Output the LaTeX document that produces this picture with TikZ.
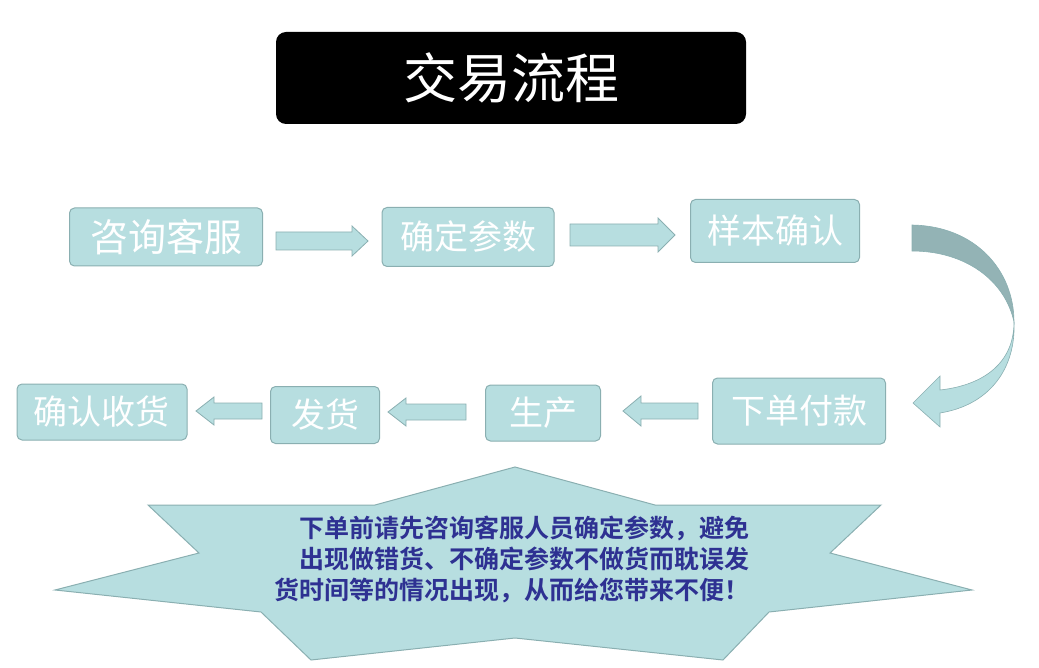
\documentclass[tikz,border=0pt]{standalone}
\usepackage{fontspec}
\newfontfamily\cjk{Noto Sans CJK SC}
\newfontfamily\cjkb{Noto Sans CJK SC Bold}
\definecolor{bfill}{HTML}{B7DEE0}
\definecolor{bdraw}{HTML}{8AAFB1}
\definecolor{dk}{HTML}{93B3B5}
\definecolor{txt}{HTML}{2E3192}
\begin{document}
\begin{tikzpicture}[x=1pt,y=-1pt,
  box/.style={draw=bdraw,fill=bfill,rounded corners=5pt,line width=1pt,text=white,font=\cjk\fontsize{34}{36}\selectfont},
  barr/.style={draw=bdraw,fill=bfill,line width=0.8pt}]
\useasboundingbox (0,0) rectangle (1039,668);
\node[fill=black,rounded corners=10pt,minimum width=470pt,minimum height=92pt,text=white,font=\cjk\fontsize{54}{56}\selectfont] (t) at (511,78) {交易流程};
\node[box,minimum width=193pt,minimum height=58pt,font=\cjk\fontsize{38}{40}\selectfont] (a) at (166,237) {咨询客服};
\node[box,minimum width=172pt,minimum height=59pt] (b) at (468,237) {确定参数};
\node[box,minimum width=169pt,minimum height=63pt] (c) at (775,231) {样本确认};
\node[box,minimum width=173pt,minimum height=66pt] (d) at (799,411) {下单付款};
\node[box,minimum width=115pt,minimum height=56pt] (e) at (543,413) {生产};
\node[box,minimum width=109pt,minimum height=57pt] (f) at (325,415) {发货};
\node[box,minimum width=170pt,minimum height=56pt] (g) at (102,412) {确认收货};
% right arrows
\draw[barr] (276,232)--(352,232)--(352,226)--(368,241)--(352,256)--(352,250)--(276,250)--cycle;
\draw[barr] (570,224)--(658,224)--(658,218)--(675,235)--(658,252)--(658,246)--(570,246)--cycle;
% left arrows
\draw[barr] (262,403)--(214,403)--(214,397)--(196,411)--(214,425)--(214,419)--(262,419)--cycle;
\draw[barr] (466,404)--(406,404)--(406,398)--(388,412)--(406,426)--(406,420)--(466,420)--cycle;
\draw[barr] (698,403)--(641,403)--(641,396)--(623,411)--(641,426)--(641,419)--(698,419)--cycle;
% curved arrow
\draw[draw=bdraw,fill=dk,line width=0.6pt] (912,225) .. controls (975,226) and (1014,270) .. (1014,322)
  .. controls (1005,280) and (965,251) .. (912,251) -- cycle;
\draw[draw=bdraw,fill=bfill,line width=0.6pt] (1014,322) .. controls (1014,362) and (985,385) .. (940,390)
  -- (940,376) -- (913,403) -- (940,427) -- (940,413) .. controls (990,405) and (1016,368) .. (1014,322);
% star
\draw[draw=bdraw,fill=bfill,line width=1pt] (515,467)--(655,505)--(881,505)--(830,553)--(972,590)--(769,612)--(723,660)--(515,638)--(311,660)--(261,612)--(55,590)--(199,553)--(148,505)--(375,505)--cycle;
\node[text=txt,font=\cjkb\fontsize{25}{31}\selectfont,align=right] (s) at (512,559) {下单前请先咨询客服人员确定参数，避免\\出现做错货、不确定参数不做货而耽误发\\货时间等的情况出现，从而给您带来不便！};
\end{tikzpicture}
\end{document}
